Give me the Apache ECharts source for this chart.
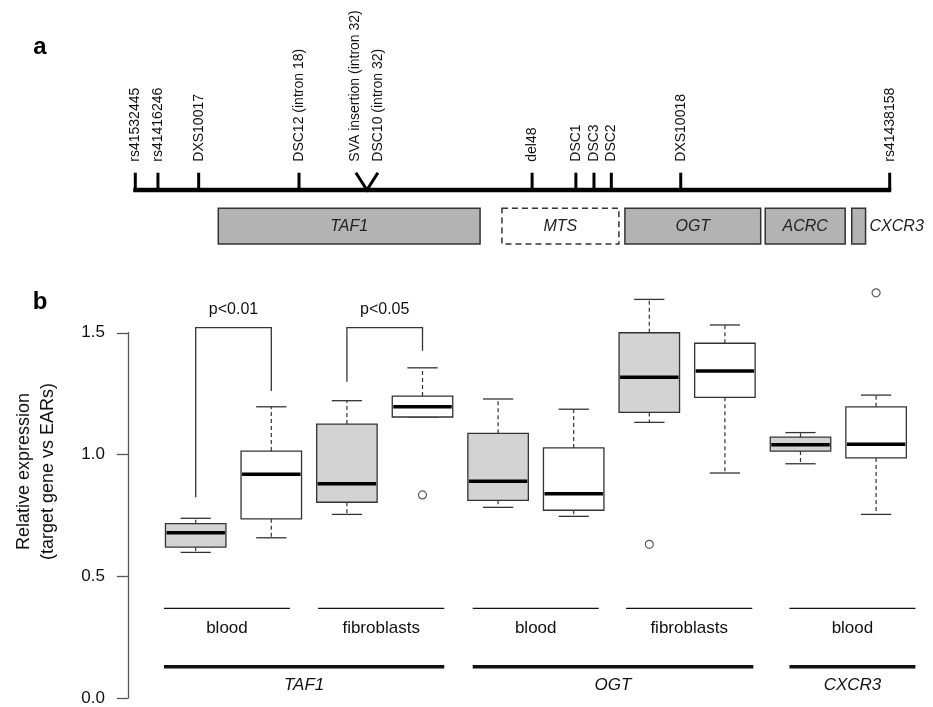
<!DOCTYPE html>
<html><head><meta charset="utf-8">
<script src="https://cdn.jsdelivr.net/npm/echarts@6/dist/echarts.min.js"></script>
<style>html,body{margin:0;padding:0;background:#fff}#c{width:933px;height:707px}</style>
</head><body><div id="c"></div>
<script>
// ---------- panel a : genomic map (relative position, 0 = rs41532445, 100 = rs41438158) ----------
const markerNames = ['rs41532445','rs41416246','DXS10017','DSC12 (intron 18)','SVA insertion (intron 32)\nDSC10 (intron 32)','del48','DSC1','DSC3','DSC2','DXS10018','rs41438158'];
const markerPos   = [0, 3.0, 8.4, 21.7, 30.7, 52.6, 58.4, 60.8, 63.1, 72.3, 100];
const markerKind  = ['snp','snp','str','str','insertion','deletion','str','str','str','str','snp'];
const regionSpan  = [-0.27, 100.2];
const geneNames   = ['TAF1','MTS','OGT','ACRC','CXCR3'];
const geneStart   = [11.0, 48.6, 64.9, 83.5, 94.97];
const geneEnd     = [45.7, 64.1, 82.9, 94.1, 96.8];
const geneKnown   = [true, false, true, true, true];

// ---------- panel b : boxplots ----------
const boxGene   = ['TAF1','TAF1','TAF1','TAF1','OGT','OGT','OGT','OGT','CXCR3','CXCR3'];
const boxTissue = ['blood','blood','fibroblasts','fibroblasts','blood','blood','fibroblasts','fibroblasts','blood','blood'];
const boxGroup  = ['patient','control','patient','control','patient','control','patient','control','patient','control'];
const boxMin = [0.598, 0.658, 0.754, 1.154, 0.783, 0.746, 1.132, 0.924, 0.962, 0.754];
const boxQ1  = [0.620, 0.736, 0.804, 1.154, 0.812, 0.771, 1.173, 1.235, 1.014, 0.986];
const boxMed = [0.679, 0.919, 0.880, 1.196, 0.890, 0.839, 1.317, 1.343, 1.040, 1.042];
const boxQ3  = [0.716, 1.014, 1.125, 1.240, 1.087, 1.027, 1.500, 1.457, 1.071, 1.196];
const boxMax = [0.738, 1.196, 1.221, 1.356, 1.228, 1.186, 1.637, 1.532, 1.090, 1.244];
const outlierBox = [4, 7, 10];
const outlierVal = [0.834, 0.631, 1.664];

const bracketFrom    = [1, 3];
const bracketTo      = [2, 4];
const bracketTop     = [1.521, 1.521];
const bracketFromEnd = [0.824, 1.299];
const bracketToEnd   = [1.261, 1.426];
const bracketLabel   = ['p<0.01', 'p<0.05'];

const tissueRowLabel = ['blood','fibroblasts','blood','fibroblasts','blood'];
const tissueRowStart = [0.58, 2.618, 4.664, 6.692, 8.854];
const tissueRowEnd   = [2.247, 4.288, 6.331, 8.362, 10.52];
const geneRowLabel   = ['TAF1','OGT','CXCR3'];
const geneRowStart   = [0.58, 4.664, 8.854];
const geneRowEnd     = [4.288, 8.376, 10.52];

const yTicks = [0, 0.5, 1.0, 1.5];

// ---------- layout / style ----------
const FONT = "'Liberation Sans', Arial, Helvetica, sans-serif";
const INK = '#333';
const groupFill = {patient: '#d3d3d3', control: '#ffffff'};
// panel a vertical layout (in top-grid y units: px = 250 - v)
const A_LINE = 60, A_TICK = 77.3, A_LABEL = 88.3, A_BOX_TOP = 41.7, A_BOX_BOT = 6;
// panel b annotation rows (in expression units)
const ROW_TISSUE_LINE = 0.368, ROW_TISSUE_TEXT = 0.286, ROW_GENE_LINE = 0.1285, ROW_GENE_TEXT = 0.053, P_TEXT = 1.596;

const chart = echarts.init(document.getElementById('c'), null, {renderer: 'canvas'});

const boxData = boxMin.map((m, k) => [k + 1, m, boxQ1[k], boxMed[k], boxQ3[k], boxMax[k]]);

function renderBox(params, api) {
  const i = api.value(0);
  const x = api.coord([i, 0])[0];
  const bw = api.size([1, 0])[0] * 0.8;
  const cap = bw / 2;
  const y = v => api.coord([i, v])[1];
  const yMin = y(api.value(1)), yQ1 = y(api.value(2)), yMed = y(api.value(3)), yQ3 = y(api.value(4)), yMax = y(api.value(5));
  const fill = groupFill[boxGroup[params.dataIndex]];
  const dash = {stroke: INK, lineWidth: 1.2, lineDash: [4, 3]};
  const solid = {stroke: INK, lineWidth: 1.3};
  return {type: 'group', children: [
    {type: 'line', shape: {x1: x, y1: yQ3, x2: x, y2: yMax}, style: dash},
    {type: 'line', shape: {x1: x, y1: yQ1, x2: x, y2: yMin}, style: dash},
    {type: 'line', shape: {x1: x - cap / 2, y1: yMax, x2: x + cap / 2, y2: yMax}, style: solid},
    {type: 'line', shape: {x1: x - cap / 2, y1: yMin, x2: x + cap / 2, y2: yMin}, style: solid},
    {type: 'rect', shape: {x: x - bw / 2, y: yQ3, width: bw, height: yQ1 - yQ3}, style: {fill: fill, stroke: INK, lineWidth: 1.3}},
    {type: 'line', shape: {x1: x - bw / 2 + 1, y1: yMed, x2: x + bw / 2 - 1, y2: yMed}, style: {stroke: '#000', lineWidth: 3.5}}
  ]};
}

function renderBracket(params, api) {
  const a = api.value(0), b = api.value(1), top = api.value(2), ea = api.value(3), eb = api.value(4);
  const p1 = api.coord([a, ea]), p2 = api.coord([a, top]), p3 = api.coord([b, top]), p4 = api.coord([b, eb]);
  const t = api.coord([(a + b) / 2, P_TEXT]);
  return {type: 'group', children: [
    {type: 'polyline', shape: {points: [p1, p2, p3, p4]}, style: {stroke: INK, lineWidth: 1.3, fill: null}},
    {type: 'text', style: {text: bracketLabel[params.dataIndex], x: t[0], y: t[1], align: 'center', verticalAlign: 'middle', fontSize: 16, fontFamily: FONT, fill: '#111'}}
  ]};
}

function makeRowRenderer(labels, lineV, textV, lineW, italic) {
  return function (params, api) {
    const s = api.value(0), e = api.value(1);
    const p1 = api.coord([s, lineV]), p2 = api.coord([e, lineV]);
    const t = api.coord([(s + e) / 2, textV]);
    return {type: 'group', children: [
      {type: 'line', shape: {x1: p1[0], y1: p1[1], x2: p2[0], y2: p2[1]}, style: {stroke: '#111', lineWidth: lineW}},
      {type: 'text', style: {text: labels[params.dataIndex], x: t[0], y: t[1], align: 'center', verticalAlign: 'middle', fontSize: 17, fontStyle: italic ? 'italic' : 'normal', fontFamily: FONT, fill: '#111'}}
    ]};
  };
}

function renderRegion(params, api) {
  const p1 = api.coord([api.value(0), A_LINE]), p2 = api.coord([api.value(1), A_LINE]);
  return {type: 'line', shape: {x1: p1[0], y1: p1[1], x2: p2[0], y2: p2[1]}, style: {stroke: '#000', lineWidth: 4.5}};
}

function renderMarker(params, api) {
  const pos = api.value(0);
  const base = api.coord([pos, A_LINE]);
  const top = api.coord([pos, A_TICK]);
  const lab = api.coord([pos, A_LABEL]);
  const kind = markerKind[params.dataIndex];
  const children = [];
  if (kind === 'insertion') {
    const half = base[1] - top[1] ? 11 : 11;
    children.push({type: 'polyline', shape: {points: [[base[0] - half, top[1]], [base[0], base[1]], [base[0] + half, top[1]]]}, style: {stroke: '#000', lineWidth: 3, fill: null}});
  } else {
    children.push({type: 'line', shape: {x1: base[0], y1: base[1], x2: top[0], y2: top[1]}, style: {stroke: '#000', lineWidth: 3}});
  }
  children.push({type: 'text', x: lab[0], y: lab[1], rotation: Math.PI / 2,
    style: {text: markerNames[params.dataIndex], x: 0, y: 0, align: 'left', verticalAlign: 'middle', fontSize: 14, lineHeight: 23, fontFamily: FONT, fill: '#111'}});
  return {type: 'group', children: children};
}

function renderGene(params, api) {
  const s = api.value(0), e = api.value(1);
  const tl = api.coord([s, A_BOX_TOP]), br = api.coord([e, A_BOX_BOT]);
  const known = geneKnown[params.dataIndex];
  const w = br[0] - tl[0], h = br[1] - tl[1];
  const name = geneNames[params.dataIndex];
  const inside = w > 40;
  return {type: 'group', children: [
    {type: 'rect', shape: {x: tl[0], y: tl[1], width: w, height: h},
      style: known ? {fill: '#b3b3b3', stroke: INK, lineWidth: 1.5} : {fill: '#fff', stroke: INK, lineWidth: 1.5, lineDash: [6, 4]}},
    {type: 'text', style: {text: name, x: inside ? tl[0] + w / 2 : br[0] + 4, y: tl[1] + h / 2, align: inside ? 'center' : 'left', verticalAlign: 'middle', fontSize: 16, fontStyle: 'italic', fontFamily: FONT, fill: '#222'}}
  ]};
}

const option = {
  animation: false,
  backgroundColor: '#fff',
  textStyle: {fontFamily: FONT},
  grid: [
    {left: 157.9, right: 19.1, top: 245.1, bottom: 9},
    {left: 157.9, right: 19.1, top: 332.75, bottom: 9},
    {left: 135.3, right: 43.3, top: 150, height: 100}
  ],
  xAxis: [
    {gridIndex: 0, type: 'value', min: 0.5, max: 10.5, show: false},
    {gridIndex: 1, type: 'value', min: 0.5, max: 10.5, show: false},
    {gridIndex: 2, type: 'value', min: 0, max: 100, show: false}
  ],
  yAxis: [
    {gridIndex: 0, type: 'value', min: 0, max: 1.86, offset: 30,
      axisLine: {show: false}, axisTick: {show: false}, axisLabel: {show: false}, splitLine: {show: false},
      name: 'Relative expression\n(target gene vs EARs)', nameLocation: 'middle', nameRotate: 90, nameGap: 68,
      nameTextStyle: {fontSize: 18, lineHeight: 24, color: '#111', fontFamily: FONT}},
    {gridIndex: 1, type: 'value', min: 0, max: 1.5, interval: 0.5, offset: 30,
      axisLine: {show: true, lineStyle: {color: '#555', width: 1.3}},
      axisTick: {show: true, length: 11, lineStyle: {color: '#555', width: 1.3}},
      axisLabel: {show: true, margin: 23, fontSize: 17, color: '#111', fontFamily: FONT,
        customValues: yTicks, formatter: v => Number(v).toFixed(1)},
      splitLine: {show: false}},
    {gridIndex: 2, type: 'value', min: 0, max: 100, show: false}
  ],
  graphic: [
    {type: 'text', x: 40, y: 47, style: {text: 'a', fontSize: 24, fontWeight: 'bold', fontFamily: FONT, fill: '#000', align: 'center', verticalAlign: 'middle'}},
    {type: 'text', x: 40, y: 302, style: {text: 'b', fontSize: 24, fontWeight: 'bold', fontFamily: FONT, fill: '#000', align: 'center', verticalAlign: 'middle'}}
  ],
  series: [
    {type: 'custom', name: 'region', xAxisIndex: 2, yAxisIndex: 2, clip: false, renderItem: renderRegion,
      data: [[regionSpan[0], regionSpan[1]]], encode: {x: [0, 1]}},
    {type: 'custom', name: 'markers', xAxisIndex: 2, yAxisIndex: 2, clip: false, renderItem: renderMarker,
      data: markerPos.map(p => [p]), encode: {x: 0}},
    {type: 'custom', name: 'genes', xAxisIndex: 2, yAxisIndex: 2, clip: false, renderItem: renderGene,
      data: geneStart.map((s, k) => [s, geneEnd[k]]), encode: {x: [0, 1]}},
    {type: 'custom', name: 'expression', xAxisIndex: 0, yAxisIndex: 0, clip: false, renderItem: renderBox,
      data: boxData, encode: {x: 0, y: [1, 2, 3, 4, 5]}},
    {type: 'scatter', name: 'outliers', xAxisIndex: 0, yAxisIndex: 0, symbol: 'circle', symbolSize: 8,
      itemStyle: {color: '#fff', borderColor: INK, borderWidth: 1.2},
      data: outlierBox.map((b, k) => [b, outlierVal[k]])},
    {type: 'custom', name: 'brackets', xAxisIndex: 0, yAxisIndex: 0, clip: false, renderItem: renderBracket,
      data: bracketFrom.map((a, k) => [a, bracketTo[k], bracketTop[k], bracketFromEnd[k], bracketToEnd[k]]), encode: {x: [0, 1]}},
    {type: 'custom', name: 'tissues', xAxisIndex: 0, yAxisIndex: 0, clip: false,
      renderItem: makeRowRenderer(tissueRowLabel, ROW_TISSUE_LINE, ROW_TISSUE_TEXT, 1.4, false),
      data: tissueRowStart.map((s, k) => [s, tissueRowEnd[k]]), encode: {x: [0, 1]}},
    {type: 'custom', name: 'geneRows', xAxisIndex: 0, yAxisIndex: 0, clip: false,
      renderItem: makeRowRenderer(geneRowLabel, ROW_GENE_LINE, ROW_GENE_TEXT, 3.6, true),
      data: geneRowStart.map((s, k) => [s, geneRowEnd[k]]), encode: {x: [0, 1]}}
  ]
};
chart.setOption(option);
</script>
</body></html>
